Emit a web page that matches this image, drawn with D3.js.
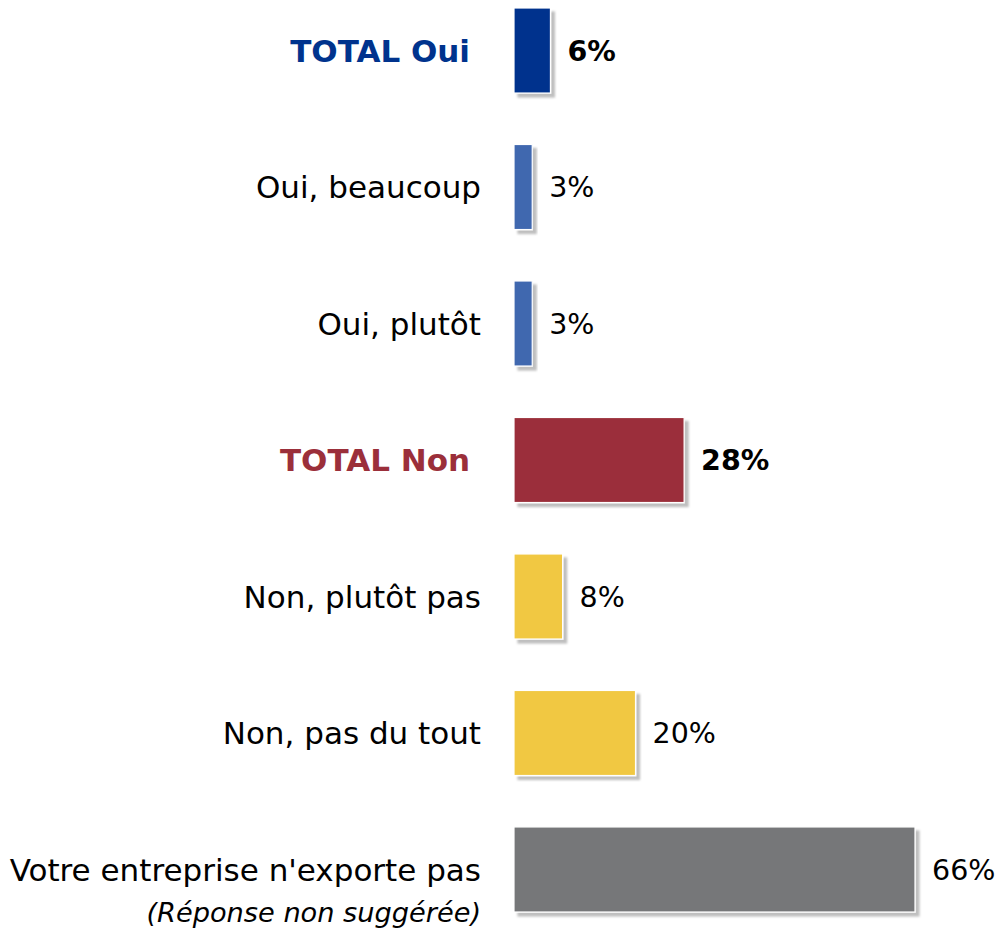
<!DOCTYPE html>
<html><head><meta charset="utf-8">
<script src="https://cdn.jsdelivr.net/npm/d3@7/dist/d3.min.js"></script>
<style>body{margin:0;background:#fff}svg{display:block}</style>
</head><body>
<script>
const categories = ["TOTAL Oui","Oui, beaucoup","Oui, plutôt","TOTAL Non","Non, plutôt pas","Non, pas du tout","Votre entreprise n'exporte pas"];
const subLabels = ["","","","","","","(Réponse non suggérée)"];
const values = [6,3,3,28,8,20,66];
const valueLabels = ["6%","3%","3%","28%","8%","20%","66%"];
const isTotal = [true,false,false,true,false,false,false];
const barColors = ["#00338D","#3F67AF","#3F67AF","#9B2F3A","#F1C842","#F1C842","#767779"];
const labelColors = ["#00338D","#000","#000","#9B2F3A","#000","#000","#000"];

const W = 998, H = 930;
const svg = d3.select("body").append("svg").attr("width", W).attr("height", H);
const defs = svg.append("defs");
const f = defs.append("filter").attr("id","sh").attr("x","-20%").attr("y","-20%").attr("width","150%").attr("height","150%");
f.append("feGaussianBlur").attr("in","SourceAlpha").attr("stdDeviation",1.2).attr("result","b");
f.append("feOffset").attr("in","b").attr("dx",4).attr("dy",4).attr("result","o");
f.append("feFlood").attr("flood-color","#000").attr("flood-opacity",0.25);
f.append("feComposite").attr("in2","o").attr("operator","in").attr("result","s");
const m = f.append("feMerge");
m.append("feMergeNode").attr("in","s");
m.append("feMergeNode").attr("in","SourceGraphic");

const x = d3.scaleLinear().domain([0,66]).range([514,915]);
const y = d3.scaleBand().domain(categories).range([8,912]).paddingInner(0.377).paddingOuter(0);
const g = svg.append("g");
const bh = y.bandwidth();
const FS = 31, VFS = 28.5;

g.selectAll("rect.bar").data(categories).join("rect")
  .attr("x", x(0)).attr("y", d=>y(d))
  .attr("width", (d,i)=>x(values[i])-x(0)).attr("height", bh)
  .attr("fill", (d,i)=>barColors[i]).attr("stroke","#fff").attr("stroke-width",1.2)
  .attr("filter","url(#sh)");

g.selectAll("text.val").data(categories).join("text")
  .attr("x",(d,i)=>x(values[i])+17).attr("y", d=>y(d)+bh/2)
  .attr("dy","0.36em")
  .attr("font-family","DejaVu Sans").attr("font-size",VFS)
  .attr("font-weight",(d,i)=>isTotal[i]?"bold":"normal")
  .attr("fill","#000").text((d,i)=>valueLabels[i]);

g.selectAll("text.lab").data(categories).join("text")
  .attr("x",(d,i)=>isTotal[i]?470:481)
  .attr("y",(d,i)=>y(d)+bh/2)
  .attr("dy","0.36em").attr("text-anchor","end")
  .attr("font-family","DejaVu Sans").attr("font-size",FS)
  .attr("font-weight",(d,i)=>isTotal[i]?"bold":"normal")
  .attr("fill",(d,i)=>labelColors[i]).text(d=>d);

g.selectAll("text.sub").data(categories.filter((d,i)=>subLabels[i])).join("text")
  .attr("x",481).attr("y", d=>y(d)+bh/2+43)
  .attr("dy","0.36em").attr("text-anchor","end")
  .attr("font-family","DejaVu Sans").attr("font-size",27.2).attr("font-style","italic")
  .attr("fill","#000").text(d=>subLabels[categories.indexOf(d)]);
</script>
</body></html>
